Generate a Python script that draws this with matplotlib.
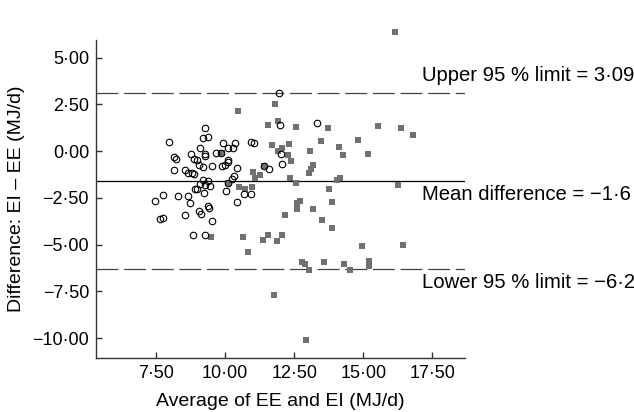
import numpy as np
import matplotlib
matplotlib.use("Agg")
import matplotlib.pyplot as plt

plt.rcParams['font.family'] = ['Liberation Sans', 'DejaVu Sans']
plt.rcParams['lines.scale_dashes'] = False

# open circles
circ_x = [9.29, 9.19, 9.37, 7.98, 9.94, 10.36, 10.93, 11.05, 9.08, 10.10,
          10.28, 8.76, 9.29, 9.28, 9.69, 9.84, 8.15, 8.23, 8.88, 8.99,
          10.12, 10.10, 9.06, 9.21, 9.53, 9.88, 9.98, 8.15, 8.54, 8.66,
          8.79, 8.86, 10.42, 10.34, 10.25, 11.42, 11.58, 11.96, 11.99, 12.03,
          12.07, 13.34, 9.21, 9.40, 9.11, 9.28, 9.46, 8.93, 8.99, 9.25,
          10.05, 10.10, 7.47, 7.77, 8.31, 8.67, 8.73, 10.43, 10.70, 10.94,
          7.65, 7.75, 8.55, 9.07, 9.12, 9.40, 9.41, 9.52, 8.85, 9.28]
circ_y = [1.22, 0.72, 0.73, 0.50, 0.42, 0.46, 0.50, 0.42, 0.14, 0.18,
          0.18, -0.13, -0.13, -0.24, -0.12, -0.10, -0.34, -0.43, -0.40, -0.49,
          -0.48, -0.57, -0.72, -0.85, -0.77, -0.80, -0.73, -1.02, -1.02, -1.17,
          -1.17, -1.22, -0.92, -1.35, -1.48, -0.80, -0.97, 3.09, 1.40, -0.17,
          -0.68, 1.49, -1.53, -1.58, -1.78, -1.80, -1.87, -2.04, -2.00, -2.22,
          -2.14, -1.70, -2.65, -2.35, -2.40, -2.42, -2.75, -2.71, -2.31, -2.29,
          -3.65, -3.55, -3.41, -3.22, -3.35, -2.95, -3.06, -3.71, -4.49, -4.49]

# grey squares
sq_x = [10.47, 11.81, 11.91, 11.54, 12.57, 13.72, 15.52, 16.37, 16.80, 13.48,
        14.80, 14.12, 14.28, 15.16, 13.08, 11.71, 12.30, 12.05, 11.90, 12.29,
        12.38, 13.19, 13.11, 13.05, 11.01, 11.26, 11.08, 12.36, 12.56, 14.06,
        14.16, 16.27, 13.76, 10.52, 10.72, 10.99, 9.88, 11.42, 10.10, 12.59,
        12.70, 12.62, 12.17, 13.19, 13.86, 13.50, 13.86, 14.95, 16.45, 9.48,
        10.64, 11.39, 11.57, 11.87, 12.05, 10.84, 12.77, 12.88, 13.02, 13.57,
        14.31, 14.52, 15.22, 15.22, 11.77, 12.94, 16.15]
sq_y = [2.16, 2.50, 1.61, 1.37, 1.29, 1.24, 1.34, 1.22, 0.86, 0.56,
        0.57, 0.24, -0.19, -0.16, -0.01, 0.32, 0.37, 0.18, 0.01, -0.21,
        -0.51, -0.72, -0.93, -1.19, -1.14, -1.29, -1.42, -1.46, -1.68, -1.55,
        -1.43, -1.81, -2.00, -1.90, -2.05, -1.92, -0.09, -0.80, -1.70, -2.79,
        -2.65, -3.12, -3.39, -3.11, -2.71, -3.68, -4.13, -5.07, -5.02, -4.58,
        -4.58, -4.75, -4.51, -4.83, -4.48, -5.41, -5.91, -6.04, -6.36, -5.95,
        -6.05, -6.36, -5.86, -6.12, -7.70, -10.10, 6.39]

mean_diff = -1.6
upper = 3.09
lower = -6.29

xticks = [7.5, 10, 12.5, 15, 17.5]
xlabels = ['7·50', '10·00', '12·50', '15·00', '17·50']
yticks = [5, 2.5, 0, -2.5, -5, -7.5, -10]
ylabels = ['5·00', '2·50', '0·00', '−2·50', '−5·00', '−7·50', '−10·00']

fig = plt.figure(figsize=(6.34, 4.12), dpi=100)
ax = fig.add_axes([0.1514, 0.1311, 0.582, 0.7718])

ax.axhline(upper, color='#444444', lw=0.9, dashes=(15.8, 4.1))
ax.axhline(lower, color='#444444', lw=0.9, dashes=(15.8, 4.1))
ax.axhline(mean_diff, color='black', lw=0.9)

ax.plot(sq_x, sq_y, 's', ms=4.3, color='#717171', mew=0, clip_on=False, zorder=3)
ax.plot(circ_x, circ_y, 'o', ms=4.7, mfc='none', mec='black', mew=0.8, clip_on=False, zorder=4)

# labels start just left of the axis end and run off the figure, as in the source
ax.text(17.13, 3.75, 'Upper 95 % limit = 3·09', fontsize=14.6, clip_on=False)
ax.text(17.13, -2.61, 'Mean difference = −1·6', fontsize=14.6, clip_on=False)
ax.text(17.13, -7.32, 'Lower 95 % limit = −6·29', fontsize=14.6, clip_on=False)

ax.set_xlim(5.33, 18.68)
ax.set_ylim(-11.06, 5.94)
ax.set_xticks(xticks)
ax.set_xticklabels(xlabels)
ax.set_yticks(yticks)
ax.set_yticklabels(ylabels)
ax.tick_params(direction='in', length=4, width=1, color='#333333', labelsize=13, pad=5)

for s in ['top', 'right']:
    ax.spines[s].set_visible(False)
for s in ['left', 'bottom']:
    ax.spines[s].set_linewidth(1.0)
    ax.spines[s].set_color('#333333')

ax.set_xlabel('Average of EE and EI (MJ/d)', fontsize=14, labelpad=8)
ax.set_ylabel('Difference: EI – EE (MJ/d)', fontsize=14, labelpad=5)

fig.savefig('out.png', dpi=100)
